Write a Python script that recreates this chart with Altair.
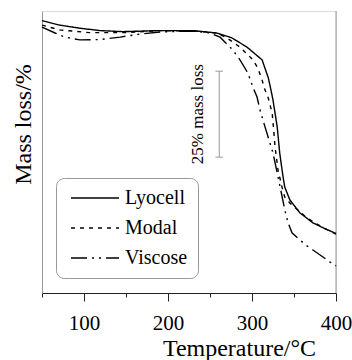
import altair as alt
import pandas as pd

# Lyocell curve (temperature °C, mass %)
lyo_t = [50, 71, 95, 119, 146, 190, 230, 258, 276, 294, 312, 319.5, 322.6, 325, 330, 333, 337, 339, 345, 357, 372.6, 386, 400]
lyo_m = [97.2, 95.9, 95.0, 94.3, 94.0, 94.3, 94.3, 93.6, 92.2, 89.5, 85.8, 80.5, 77.0, 74.1, 66.3, 58.7, 51.7, 48.8, 45.1, 41.3, 38.4, 36.8, 35.3]

# Modal curve
mod_t = [50, 71, 107, 146, 190, 230, 258, 270, 285.7, 301, 307, 312, 315.5, 319, 324, 325.5, 327.4, 331, 335.7, 339, 345, 357, 365.5, 381, 400]
mod_m = [95.9, 94.5, 93.7, 93.7, 94.3, 94.2, 93.6, 92.2, 89.5, 85.8, 83.4, 79.9, 77.0, 75.0, 70.3, 66.3, 60.5, 53.8, 48.8, 45.9, 44.2, 41.6, 39.8, 37.5, 35.1]

# Viscose curve
vis_t = [50, 65.5, 77.4, 95, 119, 143, 166.7, 190.5, 230, 250, 262, 277, 285.7, 295, 301, 306, 309.5, 315.5, 321.4, 325, 330, 333, 339, 343, 347.6, 357, 365.5, 372.6, 392.9, 400]
vis_m = [95.3, 93.6, 92.4, 91.6, 91.7, 92.4, 93.3, 93.9, 94.2, 93.6, 92.4, 88.7, 85.8, 82.0, 77.9, 75.0, 71.2, 66.3, 61.6, 58.7, 52.9, 49.4, 42.2, 38.4, 35.5, 33.4, 31.7, 30.5, 27.0, 25.9]

series = ["Lyocell", "Modal", "Viscose"]
dashes = [[1, 0], [4, 5], [16, 5, 2, 5, 2, 5]]

# annotation: 25% mass loss bar
bar_t = [261]
bar_lo = [57.5]
bar_hi = [82.5]
cap_t1 = [256.5]
cap_t2 = [265.5]
note_t = [236]
note_m = [70]
note_text = ["25% mass loss"]

rows = []
for name, ts, ms in [("Lyocell", lyo_t, lyo_m), ("Modal", mod_t, mod_m), ("Viscose", vis_t, vis_m)]:
    for i, (t, m) in enumerate(zip(ts, ms)):
        rows.append({"fiber": name, "T": t, "mass": m, "order": i})
df = pd.DataFrame(rows)

FONT = "Liberation Serif"

xscale = alt.Scale(domain=[50, 400], nice=False, zero=False)
yscale = alt.Scale(domain=[18, 100], nice=False, zero=False)

xaxis = alt.Axis(
    values=[50, 100, 150, 200, 250, 300, 350, 400],
    labelExpr="datum.value % 100 === 0 ? datum.label : ''",
    tickSize={"condition": {"test": "datum.value % 100 === 0", "value": 8}, "value": 4},
    tickColor="#222", domainColor="#222", tickWidth=1,
    labelFont=FONT, labelFontSize=21, labelColor="black", labelPadding=11,
    labelFlush=False,
    grid=False,
    title="Temperature/°C", titleFont=FONT, titleFontSize=24, titleFontWeight="normal",
    titleColor="black", titleX=197, titleY=62, titleAlign="center", titleBaseline="alphabetic",
)
yaxis = alt.Axis(
    ticks=False, labels=False, grid=False, domainColor="#999",
    title="Mass loss/%", titleFont=FONT, titleFontSize=24, titleFontWeight="normal",
    titleColor="black", titleAngle=-90, titleX=-12, titleY=113, titleAlign="center",
    titleBaseline="alphabetic",
)

lines = alt.Chart(df).mark_line(color="black", strokeWidth=1.4).encode(
    x=alt.X("T:Q", scale=xscale, axis=xaxis),
    y=alt.Y("mass:Q", scale=yscale, axis=yaxis),
    order="order:Q",
    strokeDash=alt.StrokeDash(
        "fiber:N",
        scale=alt.Scale(domain=series, range=dashes),
        legend=alt.Legend(
            title=None, orient="none", legendX=14, legendY=167,
            symbolType="M-0.83,0L7.17,0", symbolSize=144, symbolStrokeWidth=1.4,
            symbolStrokeColor="black", symbolFillColor="transparent",
            labelFont=FONT, labelFontSize=20, labelColor="black", labelOffset=39,
            padding=10, rowPadding=10, strokeColor="#999", cornerRadius=8,
            fillColor="white",
        ),
    ),
)

right = alt.Chart(pd.DataFrame({"T": [400]})).mark_rule(color="#999", strokeWidth=1).encode(
    x=alt.X("T:Q", scale=xscale)
)

bar_df = pd.DataFrame({"T": bar_t, "lo": bar_lo, "hi": bar_hi, "t1": cap_t1, "t2": cap_t2})
vbar = alt.Chart(bar_df).mark_rule(color="#999", strokeWidth=1).encode(
    x=alt.X("T:Q", scale=xscale), y=alt.Y("lo:Q", scale=yscale), y2="hi:Q"
)
cap_lo = alt.Chart(bar_df).mark_rule(color="#999", strokeWidth=1).encode(
    x=alt.X("t1:Q", scale=xscale), x2="t2:Q", y=alt.Y("lo:Q", scale=yscale)
)
cap_hi = alt.Chart(bar_df).mark_rule(color="#999", strokeWidth=1).encode(
    x=alt.X("t1:Q", scale=xscale), x2="t2:Q", y=alt.Y("hi:Q", scale=yscale)
)
note = alt.Chart(pd.DataFrame({"T": note_t, "m": note_m, "txt": note_text})).mark_text(
    angle=270, font=FONT, fontSize=17, color="black", align="center", baseline="middle"
).encode(x=alt.X("T:Q", scale=xscale), y=alt.Y("m:Q", scale=yscale), text="txt:N")

chart = alt.layer(right, vbar, cap_lo, cap_hi, note, lines).properties(
    width=294, height=282,
    autosize=alt.AutoSizeParams(type="none"),
    padding={"left": 42, "top": 11, "right": 16, "bottom": 67},
    background="white",
).configure_view(stroke=None).configure(font=FONT).configure_axis(
    labelFont=FONT, titleFont=FONT
).configure_legend(labelFont=FONT).configure_text(font=FONT)

chart.save("out.html", embed_options={"renderer": "svg", "actions": False})
